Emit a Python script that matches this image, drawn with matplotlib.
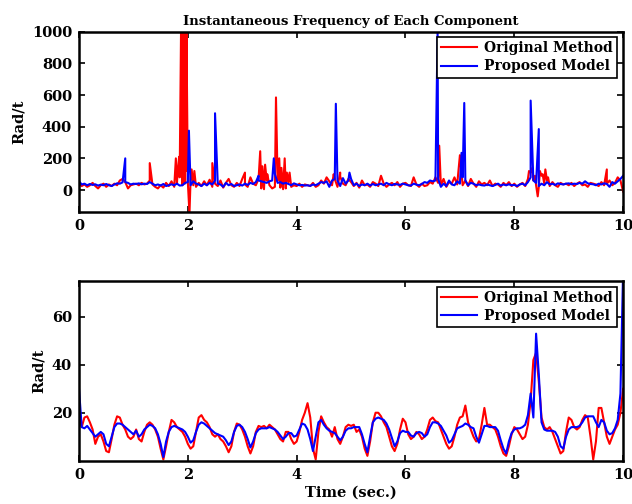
import numpy as np
import matplotlib
matplotlib.use("Agg")
import matplotlib.pyplot as plt

plt.rcParams['font.family'] = ['DejaVu Serif']
plt.rcParams['font.weight'] = 'bold'

# time grid of the traces (0.05 s)
t_grid = np.linspace(0, 10, 201)

# ---- top panel: instantaneous frequency, background level ----
orig_top = [
    40, 25, 35, 20, 30, 45, 25, 10, 30, 40,
    20, 35, 25, 40, 30, 60, 70, 50, 10, 30,
    35, 40, 30, 45, 35, 40, 60, 35, 20, 10,
    30, 15, 45, 25, 55, 20, 40, 80, 30, 60,
    50, 60, 30, 20, 45, 25, 55, 30, 65, 20,
    40, 25, 60, 15, 45, 70, 30, 20, 45, 25,
    70, 35, 20, 80, 40, 30, 70, 10, 5, 60,
    30, 10, 20, 60, 15, 5, 10, 50, 20, 30,
    25, 40, 20, 35, 30, 25, 45, 20, 30, 60,
    40, 80, 55, 30, 70, 20, 85, 40, 30, 70,
    50, 25, 45, 15, 60, 30, 35, 20, 50, 40,
    25, 90, 40, 20, 35, 45, 30, 50, 20, 40,
    45, 30, 25, 80, 35, 20, 40, 25, 30, 50,
    40, 80, 45, 30, 70, 20, 50, 40, 80, 35,
    220, 30, 60, 25, 70, 40, 20, 55, 35, 45,
    30, 60, 25, 40, 35, 20, 45, 30, 50, 25,
    40, 20, 35, 45, 25, 70, 110, 60, 30, 20,
    90, 40, 60, 25, 50, 30, 20, 45, 35, 40,
    30, 45, 25, 40, 50, 30, 35, 20, 45, 40,
    35, 25, 50, 30, 40, 60, 30, 45, 80, 60,
    -10,
]
prop_top = [
    55, 35, 40, 30, 38, 32, 36, 28, 34, 30,
    38, 30, 25, 35, 42, 40, 48, 50, 45, 35,
    40, 38, 42, 36, 40, 38, 50, 40, 30, 35,
    28, 38, 25, 30, 36, 30, 40, 28, 30, 45,
    50, 30, 55, 40, 35, 25, 40, 30, 45, 35,
    60, 40, 35, 20, 45, 30, 38, 25, 30, 35,
    28, 40, 32, 45, 38, 50, 60, 55, 50, 45,
    55, 60, 100, 45, 50, 40, 45, 38, 30, 42,
    35, 30, 32, 28, 30, 26, 35, 30, 40, 50,
    45, 55, 20, 60, 70, 60, 25, 75, 40, 60,
    70, 30, 40, 25, 35, 30, 40, 28, 38, 30,
    35, 40, 30, 45, 36, 30, 38, 35, 32, 40,
    35, 30, 28, 40, 34, 30, 38, 50, 45, 60,
    55, 60, 70, 20, 40, 25, 60, 35, 30, 55,
    40, 80, 60, 30, 45, 40, 30, 35, 30, 28,
    35, 30, 25, 32, 40, 28, 35, 30, 36, 30,
    32, 25, 35, 40, 30, 50, 80, 60, 45, 25,
    40, 30, 50, 35, 40, 32, 42, 38, 35, 40,
    42, 36, 40, 38, 45, 40, 55, 42, 38, 36,
    30, 40, 35, 42, 38, 20, 50, 40, 55, 70,
    90,
]

# ---- top panel: spikes ----
orig_spk_t = [1.30, 1.78, 1.81, 1.84,
              1.875, 1.885, 1.895, 1.905, 1.915, 1.925, 1.935, 1.945, 1.955, 1.965, 1.975,
              2.03, 2.07, 2.12, 2.45, 3.05, 3.33, 3.37, 3.42, 3.46,
              3.62, 3.68, 3.72, 3.78, 3.82, 3.87, 4.68, 4.80, 6.62,
              8.27, 8.33, 8.38, 8.43, 8.47, 8.52, 8.57, 8.62, 9.70]
orig_spk_v = [170, 200, 100, 210,
              1000, 150, 1000, 60, 1000, 100, 1000, 40, 1000, 120, 1000,
              -150, 130, 120, 170, 110, 245, 150, 160, 100,
              585, 200, 140, 200, 110, 110, 100, 110, 280,
              120, 140, 90, -40, 120, 100, 130, 80, 130]
prop_spk_t = [0.85, 2.02, 2.50, 3.30, 3.58, 4.72, 4.97, 6.59, 7.03, 7.08, 8.30, 8.45]
prop_spk_v = [200, 375, 485, 90, 200, 545, 110, 1000, 235, 550, 565, 385]

# ---- bottom panel ----
orig_bot = [
    18, 14, 18, 18.5, 16, 13, 7, 10, 11, 8,
    4, 3.5, 9, 15, 18.5, 18, 15, 13, 10, 9,
    10, 13, 9, 8, 12, 15, 16, 15, 13, 10,
    5, 0.5, 6, 12, 17, 16, 14, 13, 12, 10,
    7, 5, 6, 12, 18, 19, 17, 16, 14, 11,
    10, 11, 9, 8, 6, 3.5, 6, 12, 15.5, 15,
    13, 10, 6, 3, 6, 12, 14.5, 14, 14.5, 13.5,
    15, 14, 13, 11, 9, 8, 12, 12, 9, 7,
    8, 12, 17, 20, 24, 18, 5, 0.5, 12, 18.5,
    16, 14, 13, 10, 14, 9, 7, 10, 14, 15,
    14.5, 15, 12, 13, 10, 5, 2, 8, 16, 20,
    20, 18.5, 16, 14, 10, 6, 4, 7, 13, 17.5,
    16, 11, 9, 10, 12, 11, 9, 10, 13, 17,
    18, 16.5, 16, 13, 10, 7, 5, 6, 10, 15,
    18, 18.5, 23, 16, 13, 10, 8, 9, 15, 22,
    15, 15, 14, 13, 10, 6, 3, 2, 6, 11,
    14, 13, 11, 9, 10, 15, 25, 42, 45, 33,
    18, 14, 13, 14, 12, 9, 6, 3, 4, 12,
    18, 17, 14, 13, 14, 17, 19, 18, 10, 0.5,
    8, 22, 22, 16, 10, 7, 10, 13, 15, 20,
    30,
]
prop_bot = [
    30, 14, 13.5, 14.5, 13, 11.5, 10, 11, 12, 11,
    7, 6, 10, 14, 15.5, 15.5, 15, 14, 13, 12,
    11, 12.5, 10, 11, 13, 14, 15, 14.5, 13.5, 11,
    7, 1.5, 8, 12, 14, 14.5, 14, 13.5, 13, 12,
    10, 7.5, 8.5, 12, 15, 16, 15.5, 14.5, 13.5, 12.5,
    11.5, 11, 10.5, 10, 8.5, 6.5, 8, 12, 14.5, 15,
    14, 12, 9, 5.5, 8, 11.5, 13, 13.5, 13.5, 13.5,
    14, 13.5, 13, 12, 10.5, 9, 10, 11.5, 11.5, 10,
    10.5, 13, 15.5, 15, 13, 9, 4, 10, 16, 17,
    15, 13.5, 12.5, 12, 11.5, 10, 8.5, 10, 12.5, 13.5,
    13.5, 14, 14, 14, 11, 7, 3.5, 10, 16, 17.5,
    18, 17.5, 17, 15.5, 13, 9.5, 6, 8, 11.5, 12.5,
    12, 12, 10.5, 10, 11.5, 12, 11.5, 10, 11, 14,
    16, 16, 15.5, 14.5, 12.5, 10.5, 7.5, 8.5, 11, 13.5,
    14, 14.5, 15.5, 15, 14, 13.5, 10, 7.5, 11, 14.5,
    14.5, 14, 14, 14, 12.5, 8.5, 5, 3, 8, 11.5,
    13, 13.5, 13.5, 14, 15, 19, 28, 18, 53, 36,
    16, 13, 12.5, 12.5, 12.5, 12, 10, 6, 5, 10,
    13, 14, 14, 14, 14.5, 16, 18, 18.5, 18.5, 18.5,
    16, 14, 17, 16, 12.5, 11, 11.5, 13.5, 17, 28,
    80,
]


def merge(t_base, v_base, t_spk, v_spk):
    t = np.concatenate([t_base, t_spk])
    v = np.concatenate([v_base, v_spk])
    idx = np.argsort(t, kind='stable')
    return t[idx], v[idx]


fig = plt.figure(figsize=(6.32, 5.04), dpi=100)
ax1 = fig.add_axes([0.125, 0.580, 0.861, 0.357])
ax2 = fig.add_axes([0.125, 0.086, 0.861, 0.3566])

to, vo = merge(t_grid, orig_top, orig_spk_t, orig_spk_v)
tp, vp = merge(t_grid, prop_top, prop_spk_t, prop_spk_v)
ax1.plot(to, vo, color='red', lw=1.5, label='Original Method')
ax1.plot(tp, vp, color='blue', lw=1.5, label='Proposed Model')
ax1.set_xlim(0, 10)
ax1.set_ylim(-137, 1000)
ax1.set_yticks([0, 200, 400, 600, 800, 1000])
ax1.set_ylabel('Rad/t', fontsize=10.5, fontweight='bold')
ax1.set_title('Instantaneous Frequency of Each Component', fontsize=9.5,
              fontweight='bold', pad=5)

ax2.plot(t_grid, orig_bot, color='red', lw=1.5, label='Original Method')
ax2.plot(t_grid, prop_bot, color='blue', lw=1.5, label='Proposed Model')
ax2.set_xlim(0, 10)
ax2.set_ylim(0, 75)
ax2.set_yticks([20, 40, 60])
ax2.set_ylabel('Rad/t', fontsize=10.5, fontweight='bold')
ax2.set_xlabel('Time (sec.)', fontsize=10.5, fontweight='bold', labelpad=3)

for ax, yanc in ((ax1, 0.970), (ax2, 0.967)):
    ax.set_xticks([0, 2, 4, 6, 8, 10])
    ax.tick_params(direction='in', top=True, right=True, length=4, width=1.2,
                   labelsize=10.5, pad=5)
    for s in ax.spines.values():
        s.set_linewidth(1.8)
    leg = ax.legend(loc='upper right', bbox_to_anchor=(0.989, yanc),
                    borderaxespad=0, fancybox=False, framealpha=1,
                    handlelength=2.6, fontsize=10, borderpad=0.3,
                    labelspacing=0.3, handletextpad=0.5)
    leg.get_frame().set_edgecolor('black')
    leg.get_frame().set_linewidth(1.2)

fig.savefig('out.png', dpi=100)
